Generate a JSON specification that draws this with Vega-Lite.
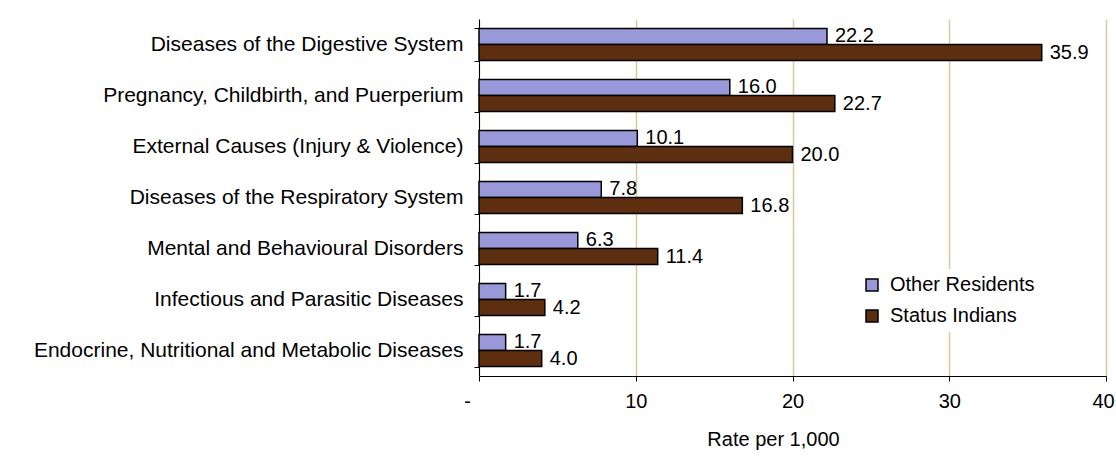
{
  "$schema": "https://vega.github.io/schema/vega-lite/v6.json",
  "width": 627,
  "height": 357,
  "autosize": "none",
  "padding": {"left": 479, "top": 19, "right": 10, "bottom": 88},
  "background": "white",
  "config": {"font": "Liberation Sans", "view": {"stroke": null}},
  "data": {
    "values": [
      {"cause": "Diseases of the Digestive System", "group": "Other Residents", "value": 22.2},
      {"cause": "Diseases of the Digestive System", "group": "Status Indians", "value": 35.9},
      {"cause": "Pregnancy, Childbirth, and Puerperium", "group": "Other Residents", "value": 16.0},
      {"cause": "Pregnancy, Childbirth, and Puerperium", "group": "Status Indians", "value": 22.7},
      {"cause": "External Causes (Injury & Violence)", "group": "Other Residents", "value": 10.1},
      {"cause": "External Causes (Injury & Violence)", "group": "Status Indians", "value": 20.0},
      {"cause": "Diseases of the Respiratory System", "group": "Other Residents", "value": 7.8},
      {"cause": "Diseases of the Respiratory System", "group": "Status Indians", "value": 16.8},
      {"cause": "Mental and Behavioural Disorders", "group": "Other Residents", "value": 6.3},
      {"cause": "Mental and Behavioural Disorders", "group": "Status Indians", "value": 11.4},
      {"cause": "Infectious and Parasitic Diseases", "group": "Other Residents", "value": 1.7},
      {"cause": "Infectious and Parasitic Diseases", "group": "Status Indians", "value": 4.2},
      {"cause": "Endocrine, Nutritional and Metabolic Diseases", "group": "Other Residents", "value": 1.7},
      {"cause": "Endocrine, Nutritional and Metabolic Diseases", "group": "Status Indians", "value": 4.0}
    ]
  },
  "encoding": {
    "y": {
      "field": "cause",
      "type": "nominal",
      "sort": [
        "Diseases of the Digestive System",
        "Pregnancy, Childbirth, and Puerperium",
        "External Causes (Injury & Violence)",
        "Diseases of the Respiratory System",
        "Mental and Behavioural Disorders",
        "Infectious and Parasitic Diseases",
        "Endocrine, Nutritional and Metabolic Diseases"
      ],
      "scale": {"paddingInner": 0.37, "paddingOuter": 0.185},
      "axis": {
        "title": null,
        "domainColor": "#000000",
        "domainWidth": 1,
        "tickBand": "extent",
        "tickColor": "#000000",
        "tickSize": 5,
        "labelFontSize": 21,
        "labelColor": "#000000",
        "labelPadding": 11,
        "labelLimit": 475,
        "grid": false
      }
    },
    "yOffset": {"field": "group", "type": "nominal", "sort": ["Other Residents", "Status Indians"]},
    "x": {
      "field": "value",
      "type": "quantitative",
      "scale": {"domain": [0, 40], "nice": false},
      "axis": {
        "values": [0, 10, 20, 30, 40],
        "labelExpr": "datum.value == 0 ? '-' : datum.label",
        "labelOffset": {"expr": "datum.value == 0 ? -12 : (datum.value == 40 ? -3 : 0)"},
        "title": "Rate per 1,000",
        "titleFontSize": 20,
        "titleFontWeight": "normal",
        "titleColor": "#000000",
        "titlePadding": 18,
        "titleX": 294,
        "labelFontSize": 20,
        "labelColor": "#000000",
        "labelPadding": 10,
        "labelFlush": false,
        "domainColor": "#000000",
        "tickColor": "#000000",
        "tickSize": 5,
        "grid": true,
        "gridColor": "#d9c99a",
        "gridWidth": 1.5
      }
    }
  },
  "layer": [
    {
      "mark": {"type": "bar", "stroke": "#000000", "strokeWidth": 1.5},
      "encoding": {
        "color": {
          "field": "group",
          "type": "nominal",
          "scale": {"domain": ["Other Residents", "Status Indians"], "range": ["#9999d9", "#5e2e10"]},
          "legend": {
            "orient": "none",
            "legendX": 377,
            "legendY": 250,
            "title": null,
            "symbolType": "square",
            "symbolSize": 144,
            "symbolStrokeColor": "#000000",
            "symbolStrokeWidth": 1.5,
            "symbolOpacity": 1,
            "labelFontSize": 20,
            "labelColor": "#000000",
            "labelOffset": 8,
            "rowPadding": 11,
            "fillColor": "white",
            "padding": 6
          }
        }
      }
    },
    {
      "mark": {"type": "text", "align": "left", "baseline": "middle", "dx": 8, "fontSize": 20, "color": "#000000"},
      "encoding": {"text": {"field": "value", "type": "quantitative", "format": ".1f"}}
    }
  ]
}
